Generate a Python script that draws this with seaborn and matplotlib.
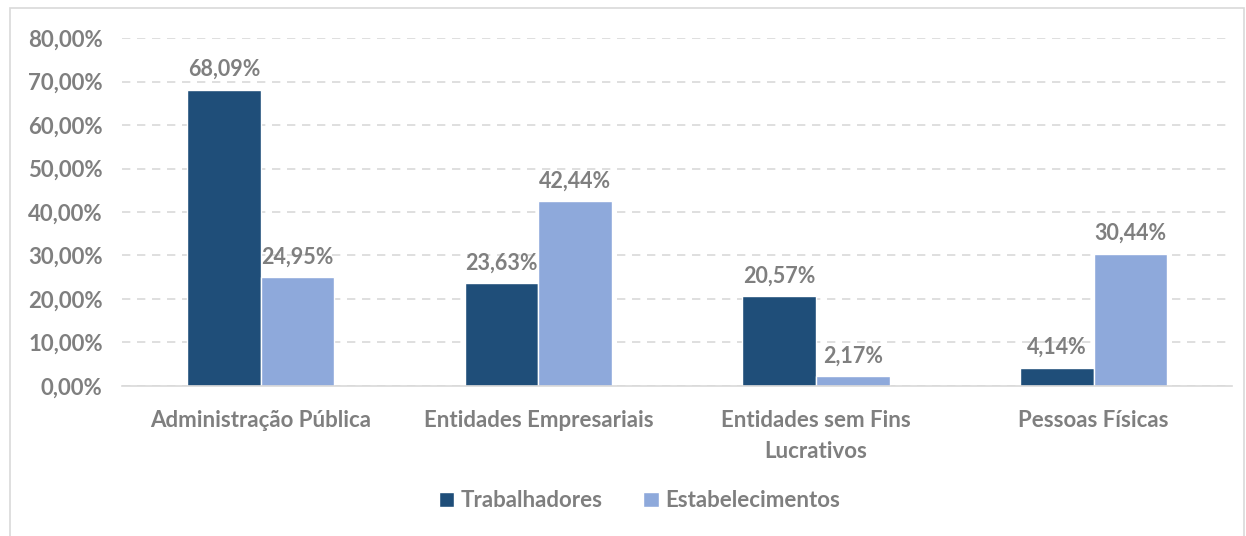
import matplotlib.pyplot as plt
import matplotlib.ticker as mticker
import pandas as pd
import seaborn as sns

# values (percent)
categories = [
    "Administração Pública",
    "Entidades Empresariais",
    "Entidades sem Fins\nLucrativos",
    "Pessoas Físicas",
]
trabalhadores = [68.09, 23.63, 20.57, 4.14]
estabelecimentos = [24.95, 42.44, 2.17, 30.44]
series_names = ["Trabalhadores", "Estabelecimentos"]
colors = ["#1F4E79", "#8EA9DB"]
text_gray = "#7F7F7F"

df = pd.DataFrame(
    {
        "categoria": categories * 2,
        "serie": [series_names[0]] * 4 + [series_names[1]] * 4,
        "valor": trabalhadores + estabelecimentos,
    }
)

sns.set_style("white")
plt.rcParams["font.family"] = ["Lato", "DejaVu Sans"]
plt.rcParams["font.weight"] = "bold"

fig = plt.figure(figsize=(12.46, 5.36), dpi=100)
ax = fig.add_axes([0.098, 0.28, 0.891, 0.649])

sns.barplot(
    data=df, x="categoria", y="valor", hue="serie",
    palette=colors, saturation=1, width=0.53, ax=ax, legend=True,
)

ax.set_ylim(0, 80)
ax.set_xlim(-0.5, 3.5)
ax.yaxis.set_major_locator(mticker.MultipleLocator(10))
ax.yaxis.set_major_formatter(
    mticker.FuncFormatter(lambda v, _: f"{v:.2f}%".replace(".", ","))
)
ax.grid(axis="y", color="#D9D9D9", linestyle=(0, (5, 4)), linewidth=1.2)
ax.set_axisbelow(True)
ax.set_xlabel("")
ax.set_ylabel("")
for side in ["top", "right", "left"]:
    ax.spines[side].set_visible(False)
ax.spines["bottom"].set_color("#D9D9D9")
ax.spines["bottom"].set_linewidth(1.2)

# category separators on the x axis
ax.set_xticks([-0.5, 0.5, 1.5, 2.5, 3.5], minor=True)
ax.tick_params(axis="x", which="minor", length=6, color="#D9D9D9", width=1.2)
ax.tick_params(axis="x", which="major", length=0, pad=17)
ax.tick_params(axis="y", length=0, pad=14)
for lbl in ax.get_xticklabels() + ax.get_yticklabels():
    lbl.set_color(text_gray)
    lbl.set_fontsize(16)
    lbl.set_fontweight("bold")
for lbl in ax.get_xticklabels():
    lbl.set_linespacing(1.6)

for container in ax.containers:
    ax.bar_label(
        container,
        labels=[f"{v:.2f}%".replace(".", ",") for v in container.datavalues],
        padding=7, color=text_gray, fontsize=15.5, fontweight="bold",
    )

ax.legend(
    loc="center", bbox_to_anchor=(0.466, -0.33), ncol=2, frameon=False,
    handlelength=0.7, handleheight=0.7, handletextpad=0.3, columnspacing=1.8,
    prop={"size": 16, "weight": "bold"}, labelcolor=text_gray,
)

# light frame around the whole figure
fig.patches.append(
    plt.Rectangle((0.008, -0.01), 0.99, 0.995, transform=fig.transFigure,
                  fill=False, edgecolor="#D9D9D9", linewidth=1.2)
)

fig.savefig("out.png", dpi=100)
